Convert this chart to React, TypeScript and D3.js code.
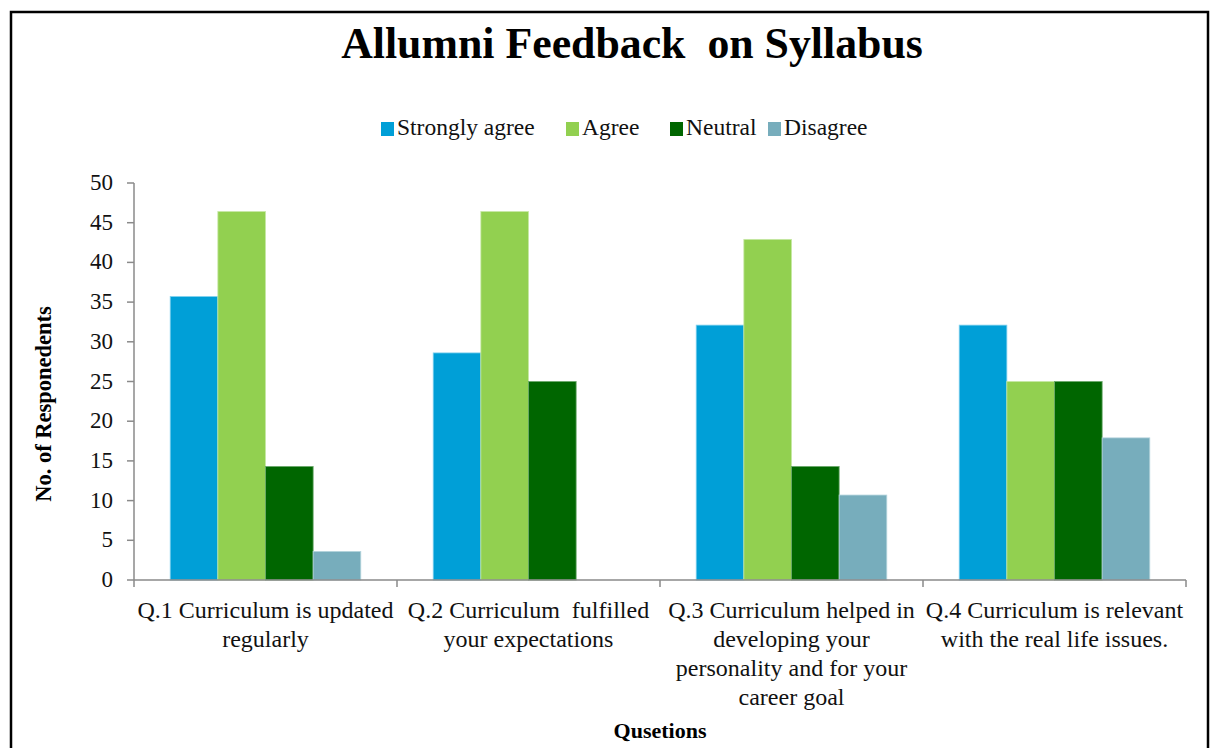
import React from "react";
import * as d3 from "d3";

const categories: string[][] = [
  ["Q.1 Curriculum is updated", "regularly"],
  ["Q.2 Curriculum  fulfilled", "your expectations"],
  ["Q.3 Curriculum helped in", "developing your", "personality and for your", "career goal"],
  ["Q.4 Curriculum is relevant", "with the real life issues."],
];
const seriesNames = ["Strongly agree", "Agree", "Neutral", "Disagree"];
const stronglyAgree = [35.7, 28.6, 32.1, 32.1];
const agree = [46.4, 46.4, 42.9, 25.0];
const neutral = [14.3, 25.0, 14.3, 25.0];
const disagree = [3.6, 0, 10.7, 17.9];
const yTicks = [0, 5, 10, 15, 20, 25, 30, 35, 40, 45, 50];
const colors = ["#009FD7", "#92D050", "#006600", "#77ADBC"];
const strokeColors = ["#7fd0ee", "#c6e8a4", "#6aa86a", "#b5d4dd"];

const W = 1211;
const H = 748;
const FONT = "Liberation Serif";
const ts = (extra: React.CSSProperties = {}): React.CSSProperties => ({ fontFamily: FONT, ...extra });

export default function App() {
  const values = [stronglyAgree, agree, neutral, disagree];
  const x0 = d3.scaleBand<number>().domain(d3.range(categories.length)).range([134, 1186]).paddingInner(0).paddingOuter(0);
  const x1 = d3.scaleBand<number>().domain(d3.range(seriesNames.length)).range([0, x0.bandwidth()]).paddingInner(0).paddingOuter(0.76);
  const y = d3.scaleLinear().domain([0, 50]).range([580, 183]);
  const axisColor = "#8a8a8a";
  const legendX = [381, 566, 670, 768];

  return (
    <svg width={W} height={H} style={{ position: "absolute", left: 0, top: 0, background: "#fff" }}>
      <rect x={0} y={0} width={W} height={H} fill="#fff" />
      <rect x={11} y={12} width={1197} height={780} fill="none" stroke="#000" strokeWidth={2.5} />
      <text x={632} y={58} textAnchor="middle" fontSize={43.8} fontWeight="bold" style={ts({ whiteSpace: "pre" })}>
        Allumni Feedback  on Syllabus
      </text>
      {seriesNames.map((s, i) => (
        <g key={s}>
          <rect x={legendX[i]} y={122} width={13} height={14} fill={colors[i]} />
          <text x={legendX[i] + 16} y={135} fontSize={23.5} fill="#111" style={ts()}>{s}</text>
        </g>
      ))}
      {categories.map((_, ci) => (
        <g key={ci} transform={`translate(${x0(ci)},0)`}>
          {values.map((arr, si) =>
            arr[ci] > 0 ? (
              <rect
                key={si}
                x={x1(si)}
                y={y(arr[ci])}
                width={x1.bandwidth()}
                height={y(0) - y(arr[ci])}
                fill={colors[si]}
                stroke={strokeColors[si]}
                strokeWidth={0.8}
              />
            ) : null
          )}
        </g>
      ))}
      <line x1={134} x2={134} y1={y(50)} y2={y(0)} stroke={axisColor} strokeWidth={1.5} />
      {yTicks.map((t) => (
        <g key={t}>
          <line x1={127} x2={134} y1={y(t)} y2={y(t)} stroke={axisColor} strokeWidth={1.5} />
          <text x={113} y={y(t) + 7} textAnchor="end" fontSize={23} fill="#111" style={ts()}>{t}</text>
        </g>
      ))}
      <line x1={134} x2={1186} y1={y(0)} y2={y(0)} stroke={axisColor} strokeWidth={1.5} />
      {d3.range(categories.length + 1).map((i) => {
        const xx = i < categories.length ? (x0(i) as number) : 1186;
        return <line key={i} x1={xx} x2={xx} y1={y(0)} y2={y(0) + 7} stroke={axisColor} strokeWidth={1.5} />;
      })}
      {categories.map((lines, ci) => (
        <text key={ci} textAnchor="middle" fontSize={24} fill="#111" style={ts({ whiteSpace: "pre" })}>
          {lines.map((l, li) => (
            <tspan key={li} x={(x0(ci) as number) + x0.bandwidth() / 2} y={618 + li * 29}>{l}</tspan>
          ))}
        </text>
      ))}
      <text x={660} y={738} textAnchor="middle" fontSize={22} fontWeight="bold" style={ts()}>Qusetions</text>
      <text transform={`translate(51,404) rotate(-90)`} textAnchor="middle" fontSize={22.5} fontWeight="bold" style={ts()}>No. of Responedents</text>
    </svg>
  );
}
